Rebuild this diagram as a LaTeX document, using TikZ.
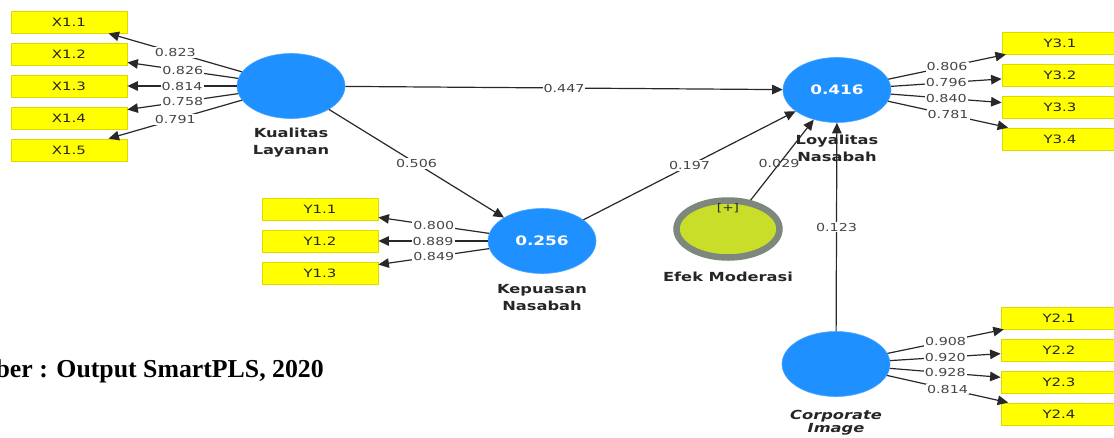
\documentclass[tikz,border=0pt]{standalone}
\usepackage{fontspec}
\setmainfont{Liberation Serif}
\newfontfamily\pls[FakeStretch=1.3]{DejaVu Sans}
\usetikzlibrary{shapes.geometric,arrows.meta}
\definecolor{plsblue}{RGB}{30,144,255}
\definecolor{plsyellow}{RGB}{255,255,0}
\definecolor{boxedge}{RGB}{225,215,0}
\definecolor{modfill}{RGB}{200,222,40}
\definecolor{modring}{RGB}{125,135,125}
\definecolor{edgecol}{RGB}{40,40,40}
\definecolor{numcol}{RGB}{70,70,70}
\tikzset{
  ind/.style={draw=boxedge, line width=0.8pt, fill=plsyellow, minimum width=116pt, minimum height=22pt, inner sep=0pt, font=\pls\fontsize{11.5}{13}\selectfont, text=black!85},
  lat/.style={ellipse, fill=plsblue, draw=plsblue!80, line width=0.6pt, minimum width=108pt, minimum height=65pt, inner sep=0pt, font=\pls\bfseries\fontsize{13}{15}\selectfont, text=white},
  latlab/.style={font=\pls\bfseries\fontsize{12.5}{17}\selectfont, text=black!85, align=center, inner sep=0pt},
  conn/.style={draw=edgecol, line width=1.2pt, -{Triangle[length=10.5pt,width=9.5pt]}},
  wt/.style={midway, fill=white, inner sep=1pt, font=\pls\fontsize{11}{13}\selectfont, text=numcol}
}
\begin{document}
\begin{tikzpicture}[x=1pt,y=-1pt]
\useasboundingbox (0,0) rectangle (1114,437);
\fill[white] (0,0) rectangle (1114,437);

% indicator boxes
\node[ind] (x11) at (69,22) {X1.1};
\node[ind] (x12) at (69,54) {X1.2};
\node[ind] (x13) at (69,86) {X1.3};
\node[ind] (x14) at (69,118) {X1.4};
\node[ind] (x15) at (69,150) {X1.5};

\node[ind] (y11) at (320,209) {Y1.1};
\node[ind] (y12) at (320,241) {Y1.2};
\node[ind] (y13) at (320,273) {Y1.3};

\node[ind] (y31) at (1060,43) {Y3.1};
\node[ind] (y32) at (1060,75) {Y3.2};
\node[ind] (y33) at (1060,107) {Y3.3};
\node[ind] (y34) at (1060,139) {Y3.4};

\node[ind] (y21) at (1059,318) {Y2.1};
\node[ind] (y22) at (1059,350) {Y2.2};
\node[ind] (y23) at (1059,382) {Y2.3};
\node[ind] (y24) at (1059,414) {Y2.4};

% latent variables
\node[lat] (kl) at (291,86) {};
\node[lat] (ln) at (837,90) {0.416};
\node[lat] (kn) at (542,241) {0.256};
\node[lat] (ci) at (836,364) {};
\node[ellipse, fill=modfill, draw=modring, line width=6.5pt, minimum width=103pt, minimum height=57pt, inner sep=0pt] (em) at (728,229) {};
\node[font=\pls\fontsize{10.5}{12}\selectfont, text=black!85, inner sep=0pt] (plus) at (728,208) {[+]};

% latent labels
\node[latlab] (kllab) at (291,143) {Kualitas\\Layanan};
\node[latlab] (knlab) at (542,298) {Kepuasan\\Nasabah};
\node[latlab] (emlab) at (728,277) {Efek Moderasi};
\node[latlab, font=\pls\bfseries\itshape\fontsize{12.5}{13}\selectfont] (cilab) at (836,423) {Corporate\\Image};

% outer loadings
\draw[conn] (kl) -- node[wt] {0.823} (x11);
\draw[conn] (kl) -- node[wt] {0.826} (x12);
\draw[conn] (kl) -- node[wt] {0.814} (x13);
\draw[conn] (kl) -- node[wt] {0.758} (x14);
\draw[conn] (kl) -- node[wt] {0.791} (x15);

\draw[conn] (kn) -- node[wt] {0.800} (y11);
\draw[conn] (kn) -- node[wt] {0.889} (y12);
\draw[conn] (kn) -- node[wt] {0.849} (y13);

\draw[conn] (ln) -- node[wt] {0.806} (y31);
\draw[conn] (ln) -- node[wt] {0.796} (y32);
\draw[conn] (ln) -- node[wt] {0.840} (y33);
\draw[conn] (ln) -- node[wt] {0.781} (y34);

\draw[conn] (ci) -- node[wt] {0.908} (y21);
\draw[conn] (ci) -- node[wt] {0.920} (y22);
\draw[conn] (ci) -- node[wt] {0.928} (y23);
\draw[conn] (ci) -- node[wt] {0.814} (y24);

% path coefficients
\draw[conn] (kl) -- node[wt] {0.447} (ln);
\draw[conn] (kl) -- node[wt] {0.506} (kn);
\draw[conn] (kn) -- node[wt] {0.197} (ln);
\draw[conn] (em) -- node[wt, pos=0.45, fill=none] {0.029} (ln);
\draw[conn] (ci) -- node[wt] {0.123} (ln);

% redraw Loyalitas label on top
\node[latlab] (lnlab) at (837,148) {Loyalitas\\Nasabah};

% source
\node[anchor=base east, font=\bfseries\fontsize{25.8}{30}\selectfont, inner sep=0pt] (src) at (324,377) {Sumber : Output SmartPLS, 2020};
\end{tikzpicture}
\end{document}
